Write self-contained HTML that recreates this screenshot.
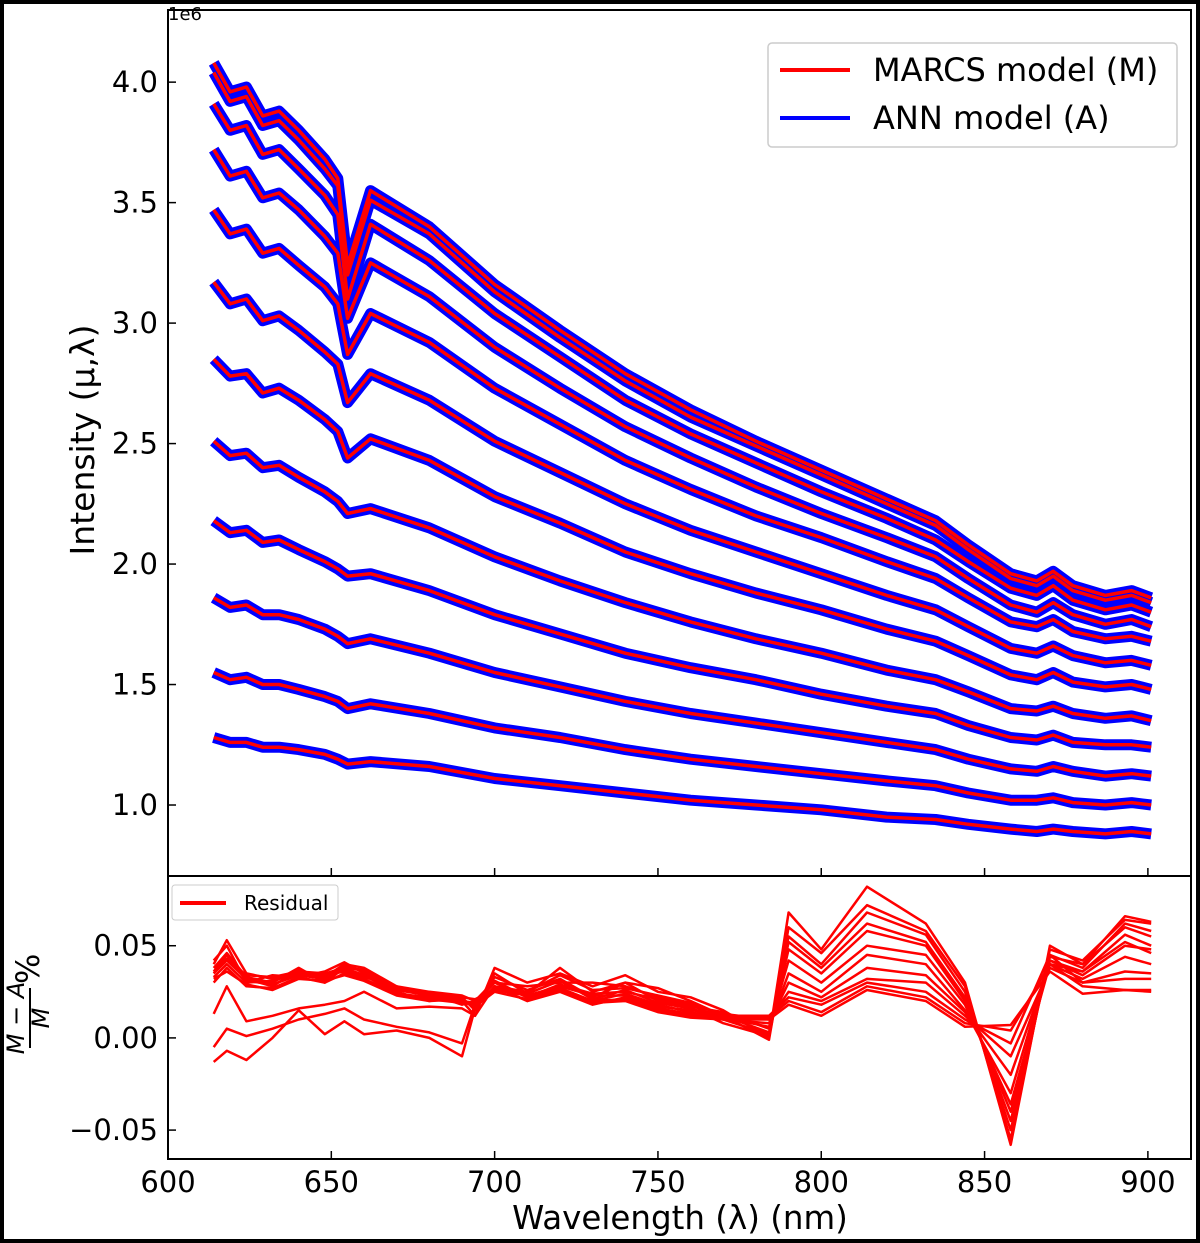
<!DOCTYPE html>
<html><head><meta charset="utf-8"><style>
html,body{margin:0;padding:0;background:#fff}
svg{display:block}
text{font-family:"DejaVu Sans","Liberation Sans",sans-serif;fill:#000}
</style></head><body>
<svg id="chart" width="1200" height="1243" viewBox="0 0 1200 1243" xmlns="http://www.w3.org/2000/svg">
<rect x="2" y="2" width="1196" height="1239" fill="#fff" stroke="#000" stroke-width="4"/>
<g id="top-lines"></g>
<g id="bot-lines"></g>
<g id="axes"></g>
<text x="168" y="20" font-size="18">1e6</text>
<text transform="translate(94,440) rotate(-90)" font-size="33" text-anchor="middle">Intensity (μ,λ)</text>
<text x="680" y="1229" font-size="32.5" text-anchor="middle">Wavelength (λ) (nm)</text>
<g transform="translate(30,1018) rotate(-90)">
<text x="0" y="-6" font-size="24" text-anchor="middle" font-style="italic">M − A</text>
<line x1="-30" y1="0" x2="30" y2="0" stroke="#000" stroke-width="2"/>
<text x="0" y="19" font-size="24" text-anchor="middle" font-style="italic">M</text>
<text x="34" y="9" font-size="32">%</text>
</g>
<g>
<rect x="768" y="43" width="409" height="104" rx="4" fill="#fff" fill-opacity="0.8" stroke="#ccc" stroke-width="1.5"/>
<line x1="780" y1="70" x2="850" y2="70" stroke="red" stroke-width="4"/>
<text x="873" y="81" font-size="32">MARCS model (M)</text>
<line x1="780" y1="118" x2="850" y2="118" stroke="blue" stroke-width="4"/>
<text x="873" y="129" font-size="32">ANN model (A)</text>
</g>
<g>
<rect x="172" y="885" width="166" height="35" rx="3" fill="#fff" fill-opacity="0.8" stroke="#ccc" stroke-width="1"/>
<line x1="180" y1="903" x2="226" y2="903" stroke="red" stroke-width="4"/>
<text x="244" y="910" font-size="20">Residual</text>
</g>
</svg>
<script>
const wl = [614,619,624,629,634,640,648,652,655,662,680,700,720,740,760,780,800,820,835,845,858,866,871,877,887,895,901];
const c1 = [4.08,3.96,3.98,3.86,3.88,3.80,3.68,3.60,3.24,3.55,3.40,3.16,2.97,2.79,2.64,2.51,2.39,2.27,2.18,2.08,1.96,1.93,1.97,1.91,1.87,1.89,1.86];
const c2 = [4.04,3.92,3.94,3.82,3.84,3.76,3.64,3.57,3.20,3.51,3.37,3.13,2.94,2.76,2.61,2.49,2.37,2.25,2.16,2.06,1.94,1.91,1.95,1.89,1.85,1.87,1.84];
const c3 = [3.91,3.80,3.82,3.70,3.72,3.64,3.53,3.45,3.10,3.41,3.26,3.04,2.86,2.68,2.54,2.42,2.30,2.19,2.10,2.01,1.90,1.87,1.91,1.85,1.81,1.83,1.80];
const c4 = [3.72,3.61,3.63,3.52,3.54,3.47,3.36,3.29,3.02,3.25,3.11,2.90,2.73,2.57,2.44,2.32,2.21,2.11,2.03,1.94,1.83,1.80,1.84,1.79,1.75,1.77,1.74];
const c5 = [3.47,3.37,3.39,3.29,3.31,3.24,3.15,3.08,2.87,3.04,2.92,2.73,2.58,2.43,2.31,2.20,2.11,2.01,1.94,1.86,1.76,1.74,1.77,1.72,1.69,1.70,1.68];
const c6 = [3.17,3.08,3.10,3.01,3.03,2.97,2.88,2.83,2.67,2.79,2.68,2.51,2.38,2.25,2.14,2.05,1.96,1.87,1.81,1.74,1.65,1.63,1.66,1.62,1.59,1.60,1.58];
const c7 = [2.85,2.78,2.79,2.71,2.73,2.68,2.60,2.55,2.44,2.52,2.43,2.28,2.17,2.05,1.96,1.88,1.81,1.73,1.68,1.62,1.54,1.52,1.55,1.51,1.49,1.50,1.48];
const c8 = [2.51,2.45,2.46,2.40,2.41,2.36,2.30,2.26,2.21,2.23,2.15,2.03,1.93,1.84,1.76,1.69,1.63,1.56,1.52,1.47,1.40,1.39,1.41,1.38,1.36,1.37,1.35];
const c9 = [2.18,2.13,2.14,2.09,2.10,2.06,2.01,1.98,1.95,1.96,1.89,1.79,1.71,1.63,1.57,1.52,1.46,1.41,1.38,1.33,1.28,1.27,1.29,1.26,1.25,1.25,1.24];
const c10 = [1.86,1.82,1.83,1.79,1.79,1.77,1.73,1.70,1.67,1.69,1.63,1.55,1.49,1.43,1.38,1.34,1.30,1.26,1.23,1.19,1.15,1.14,1.16,1.14,1.12,1.13,1.12];
const c11 = [1.55,1.52,1.53,1.50,1.50,1.48,1.45,1.43,1.40,1.42,1.38,1.32,1.28,1.23,1.19,1.16,1.13,1.10,1.08,1.05,1.02,1.02,1.03,1.01,1.00,1.01,1.00];
const c12 = [1.28,1.26,1.26,1.24,1.24,1.23,1.21,1.19,1.17,1.18,1.16,1.11,1.08,1.05,1.02,1.00,0.98,0.95,0.94,0.92,0.90,0.89,0.90,0.89,0.88,0.89,0.88];
const curves = [c1,c2,c3,c4,c5,c6,c7,c8,c9,c10,c11,c12];

const rwl = [614,618,624,632,640,648,654,660,670,680,690,694,700,710,720,730,740,750,760,770,784,790,800,814,832,844,858,870,880,893,901];
const r1 = [0.040,0.053,0.035,0.032,0.036,0.033,0.040,0.038,0.028,0.022,0.020,0.012,0.038,0.030,0.035,0.028,0.034,0.025,0.022,0.015,0.000,0.068,0.048,0.082,0.062,0.030,-0.058,0.050,0.040,0.066,0.063];
const r2 = [0.042,0.050,0.030,0.034,0.033,0.036,0.041,0.035,0.025,0.020,0.022,0.015,0.035,0.024,0.038,0.025,0.030,0.027,0.020,0.012,-0.001,0.060,0.046,0.072,0.058,0.028,-0.055,0.048,0.042,0.064,0.062];
const r3 = [0.038,0.046,0.033,0.030,0.038,0.030,0.038,0.037,0.027,0.024,0.018,0.020,0.030,0.028,0.030,0.030,0.028,0.022,0.018,0.010,0.002,0.055,0.040,0.068,0.056,0.025,-0.050,0.045,0.038,0.062,0.058];
const r4 = [0.036,0.045,0.031,0.029,0.034,0.032,0.037,0.034,0.024,0.021,0.019,0.018,0.033,0.026,0.032,0.022,0.030,0.020,0.016,0.008,0.001,0.052,0.038,0.062,0.052,0.022,-0.045,0.044,0.040,0.060,0.055];
const r5 = [0.035,0.042,0.032,0.028,0.037,0.031,0.039,0.036,0.026,0.023,0.021,0.016,0.028,0.025,0.034,0.026,0.027,0.023,0.019,0.012,0.003,0.048,0.035,0.058,0.050,0.020,-0.040,0.042,0.036,0.056,0.050];
const r6 = [0.033,0.040,0.030,0.031,0.035,0.034,0.036,0.033,0.028,0.025,0.023,0.020,0.031,0.022,0.029,0.024,0.025,0.021,0.017,0.014,0.005,0.042,0.030,0.050,0.045,0.018,-0.036,0.040,0.036,0.052,0.046];
const r7 = [0.030,0.038,0.028,0.027,0.033,0.030,0.035,0.032,0.024,0.022,0.020,0.019,0.027,0.024,0.031,0.021,0.026,0.019,0.016,0.011,0.006,0.035,0.025,0.045,0.040,0.015,-0.030,0.042,0.034,0.050,0.048];
const r8 = [0.032,0.036,0.029,0.026,0.032,0.031,0.034,0.031,0.023,0.020,0.021,0.017,0.025,0.021,0.027,0.020,0.024,0.018,0.014,0.010,0.008,0.030,0.022,0.038,0.034,0.014,-0.020,0.040,0.032,0.044,0.040];
const r9 = [0.035,0.043,0.034,0.033,0.036,0.035,0.038,0.034,0.026,0.024,0.022,0.021,0.026,0.023,0.028,0.023,0.023,0.017,0.015,0.013,0.010,0.025,0.020,0.032,0.030,0.012,-0.010,0.038,0.030,0.036,0.035];
const r10 = [0.013,0.028,0.009,0.012,0.016,0.018,0.020,0.025,0.016,0.017,0.016,0.012,0.028,0.020,0.025,0.018,0.022,0.016,0.013,0.012,0.012,0.022,0.018,0.030,0.025,0.010,-0.003,0.045,0.030,0.032,0.032];
const r11 = [-0.005,0.005,0.001,0.005,0.010,0.013,0.016,0.010,0.006,0.003,-0.003,0.018,0.030,0.022,0.027,0.020,0.021,0.015,0.012,0.011,0.011,0.020,0.014,0.028,0.022,0.008,0.004,0.040,0.028,0.026,0.026];
const r12 = [-0.013,-0.007,-0.012,0.000,0.015,0.002,0.009,0.002,0.004,0.000,-0.010,0.016,0.028,0.020,0.026,0.019,0.020,0.014,0.011,0.010,0.010,0.018,0.012,0.026,0.020,0.006,0.007,0.036,0.024,0.026,0.025];
const residuals = [r1,r2,r3,r4,r5,r6,r7,r8,r9,r10,r11,r12];

const xTicks = [600,650,700,750,800,850,900];
const yTicksTop = [1.0,1.5,2.0,2.5,3.0,3.5,4.0];
const yTicksBot = [-0.05,0.00,0.05];

const NS = 'http://www.w3.org/2000/svg';
const X0 = 168, X1 = 1191, TOP0 = 10, TOP1 = 876, BOT1 = 1159;
const xS = l => X0 + (l - 600) * (X1 - X0) / 313.2;
const yT = v => TOP1 - (v - 0.7054) * (TOP1 - TOP0) / 3.594;
const yB = v => BOT1 - (v + 0.06568) * (BOT1 - TOP1) / 0.1535;

function mk(tag, attrs, parent) {
  const e = document.createElementNS(NS, tag);
  for (const k in attrs) e.setAttribute(k, attrs[k]);
  parent.appendChild(e);
  return e;
}
const gTop = document.getElementById('top-lines');
const gBot = document.getElementById('bot-lines');
const gAx = document.getElementById('axes');

function pts(xs, ys, fy) { return ys.map((v, i) => xS(xs[i]).toFixed(1) + ',' + fy(v).toFixed(1)).join(' '); }

curves.forEach((c, i) => {
  const p = mk('polyline', {points: pts(wl, c, yT), fill: 'none', stroke: 'blue', 'stroke-width': 11, 'stroke-linejoin': 'round'}, gTop);
  
  
});
curves.forEach((c, i) => {
  const p = mk('polyline', {points: pts(wl, c, yT), fill: 'none', stroke: 'red', 'stroke-width': 3.5, 'stroke-linejoin': 'round'}, gTop);
  
  
});
residuals.forEach((r, i) => {
  const p = mk('polyline', {points: pts(rwl, r, yB), fill: 'none', stroke: 'red', 'stroke-width': 2.5, 'stroke-linejoin': 'round'}, gBot);
  
  
});

const f1 = mk('rect', {x: X0, y: TOP0, width: X1 - X0, height: TOP1 - TOP0, fill: 'none', stroke: '#000', 'stroke-width': 2}, gAx);


const f2 = mk('rect', {x: X0, y: TOP1, width: X1 - X0, height: BOT1 - TOP1, fill: 'none', stroke: '#000', 'stroke-width': 2}, gAx);



xTicks.forEach(t => {
  const x = xS(t);
  mk('line', {x1: x, y1: TOP1, x2: x, y2: TOP1 - 8, stroke: '#000', 'stroke-width': 1.5}, gAx);
  mk('line', {x1: x, y1: BOT1, x2: x, y2: BOT1 - 8, stroke: '#000', 'stroke-width': 1.5}, gAx);
  const tx = mk('text', {x: x, y: 1192, 'font-size': 29, 'text-anchor': 'middle'}, gAx);
  tx.textContent = t;
  
  
});
yTicksTop.forEach(t => {
  const y = yT(t);
  mk('line', {x1: X0, y1: y, x2: X0 + 8, y2: y, stroke: '#000', 'stroke-width': 1.5}, gAx);
  const tx = mk('text', {x: 158, y: y + 10, 'font-size': 29, 'text-anchor': 'end'}, gAx);
  tx.textContent = t.toFixed(1);
  
  
});
yTicksBot.forEach(t => {
  const y = yB(t);
  mk('line', {x1: X0, y1: y, x2: X0 + 8, y2: y, stroke: '#000', 'stroke-width': 1.5}, gAx);
  const tx = mk('text', {x: 158, y: y + 10, 'font-size': 29, 'text-anchor': 'end'}, gAx);
  tx.textContent = (t < 0 ? '−' : '') + Math.abs(t).toFixed(2);
  
  
});
</script>
</body></html>
